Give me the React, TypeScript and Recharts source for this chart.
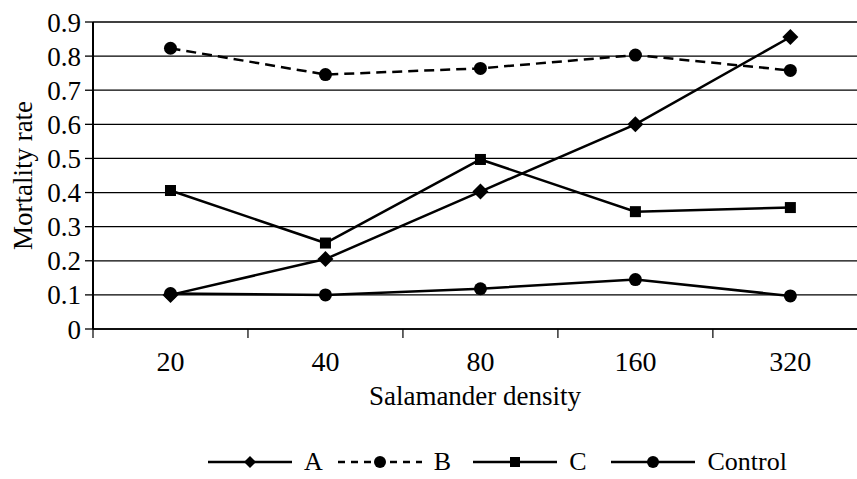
import React from "react";
import {
  LineChart,
  Line,
  XAxis,
  YAxis,
  CartesianGrid,
  Legend,
} from "recharts";

const categories = ["20", "40", "80", "160", "320"];
const seriesA = [0.1, 0.205, 0.403, 0.6, 0.856];
const seriesB = [0.823, 0.746, 0.764, 0.803, 0.758];
const seriesC = [0.406, 0.252, 0.497, 0.344, 0.356];
const seriesControl = [0.104, 0.1, 0.118, 0.145, 0.097];
const yTicks = [0, 0.1, 0.2, 0.3, 0.4, 0.5, 0.6, 0.7, 0.8, 0.9];

// category i sits in the middle of band [i, i+1]; the last band is cut by the right edge
const data = categories.map((c, i) => ({
  x: i + 0.5,
  label: c,
  A: seriesA[i],
  B: seriesB[i],
  C: seriesC[i],
  Control: seriesControl[i],
}));

const xTicks: number[] = [];
categories.forEach((_, i) => {
  xTicks.push(i);
  xTicks.push(i + 0.5);
});

const FONT = "Liberation Serif";
const INK = "#000000";

const diamond = (cx: number, cy: number, s: number) => (
  <polygon points={`${cx},${cy - s} ${cx + s},${cy} ${cx},${cy + s} ${cx - s},${cy}`} fill={INK} />
);
const circle = (cx: number, cy: number, r: number) => <circle cx={cx} cy={cy} r={r} fill={INK} />;
const square = (cx: number, cy: number, s: number) => (
  <rect x={cx - s} y={cy - s} width={s * 2} height={s * 2} fill={INK} />
);

// recharts passes its own r / size props, so chart dots take only cx, cy
const DiamondDot = (p: any) => (p.cx == null ? null : <g key={p.index}>{diamond(p.cx, p.cy, 8)}</g>);
const CircleDot = (p: any) => (p.cx == null ? null : <g key={p.index}>{circle(p.cx, p.cy, 6.5)}</g>);
const SquareDot = (p: any) => (p.cx == null ? null : <g key={p.index}>{square(p.cx, p.cy, 5.5)}</g>);

const XTick = ({ x, y, payload }: any) => {
  const v = payload.value;
  if (Number.isInteger(v)) {
    return <line x1={x} y1={y} x2={x} y2={y + 9} stroke={INK} strokeWidth={1.2} />;
  }
  return (
    <text x={x} y={y + 42} textAnchor="middle" fontFamily={FONT} fontSize={28} fill={INK}>
      {categories[Math.floor(v)]}
    </text>
  );
};

const legendItems = [
  { key: "A", marker: "diamond", dash: undefined, gap: 15 },
  { key: "B", marker: "circle", dash: "7 6", gap: 22 },
  { key: "C", marker: "square", dash: undefined, gap: 25 },
  { key: "Control", marker: "circle", dash: undefined, gap: 0 },
];

const LegendContent = () => (
  <div
    style={{
      display: "flex",
      alignItems: "center",
      fontFamily: FONT,
      fontSize: 26,
      lineHeight: "30px",
      color: INK,
      paddingTop: 28,
      paddingLeft: 208,
    }}
  >
    {legendItems.map((it) => (
      <div key={it.key} style={{ display: "flex", alignItems: "center", marginRight: it.gap }}>
        <svg width={84} height={20}>
          <line x1={0} y1={10} x2={84} y2={10} stroke={INK} strokeWidth={2.5} strokeDasharray={it.dash} />
          {it.marker === "diamond" && diamond(42, 10, 6)}
          {it.marker === "circle" && circle(42, 10, 6)}
          {it.marker === "square" && square(42, 10, 5)}
        </svg>
        <span style={{ marginLeft: 12 }}>{it.key}</span>
      </div>
    ))}
  </div>
);

export default function App() {
  return (
    <div style={{ width: 857, height: 479, background: "#fff", fontFamily: FONT }}>
      <style>{`body{margin:0}`}</style>
      <LineChart
        width={857}
        height={479}
        data={data}
        margin={{ top: 22, right: 0, left: 0, bottom: 0 }}
        style={{ fontFamily: FONT }}
      >
        <CartesianGrid vertical={false} stroke={INK} strokeWidth={1.3} />
        <XAxis
          dataKey="x"
          type="number"
          domain={[0, 4.93]}
          ticks={xTicks}
          interval={0}
          allowDataOverflow
          tick={<XTick />}
          tickLine={false}
          tickSize={0}
          tickMargin={0}
          axisLine={{ stroke: INK, strokeWidth: 1.3 }}
          height={90}
          label={{
            value: "Salamander density",
            position: "insideBottom",
            offset: 14,
            fontFamily: FONT,
            fontSize: 27,
            fill: INK,
          }}
        />
        <YAxis
          domain={[0, 0.9]}
          ticks={yTicks}
          interval={0}
          width={93}
          tickSize={8}
          tickMargin={4}
          tickFormatter={(v: number) => (v === 0 ? "0" : v.toFixed(1))}
          tick={{ fontFamily: FONT, fontSize: 27, fill: INK }}
          tickLine={{ stroke: INK, strokeWidth: 1.3 }}
          axisLine={{ stroke: INK, strokeWidth: 2 }}
          label={{
            value: "Mortality rate",
            angle: -90,
            position: "insideLeft",
            offset: 22,
            fontFamily: FONT,
            fontSize: 27,
            fill: INK,
            style: { textAnchor: "middle" },
          }}
        />
        <Legend verticalAlign="bottom" height={60} content={<LegendContent />} />
        <Line dataKey="A" stroke={INK} strokeWidth={2.5} dot={DiamondDot} activeDot={false} isAnimationActive={false} />
        <Line
          dataKey="B"
          stroke={INK}
          strokeWidth={2.5}
          strokeDasharray="10 6"
          dot={CircleDot}
          activeDot={false}
          isAnimationActive={false}
        />
        <Line dataKey="C" stroke={INK} strokeWidth={2.5} dot={SquareDot} activeDot={false} isAnimationActive={false} />
        <Line
          dataKey="Control"
          stroke={INK}
          strokeWidth={2.5}
          dot={CircleDot}
          activeDot={false}
          isAnimationActive={false}
        />
      </LineChart>
    </div>
  );
}
